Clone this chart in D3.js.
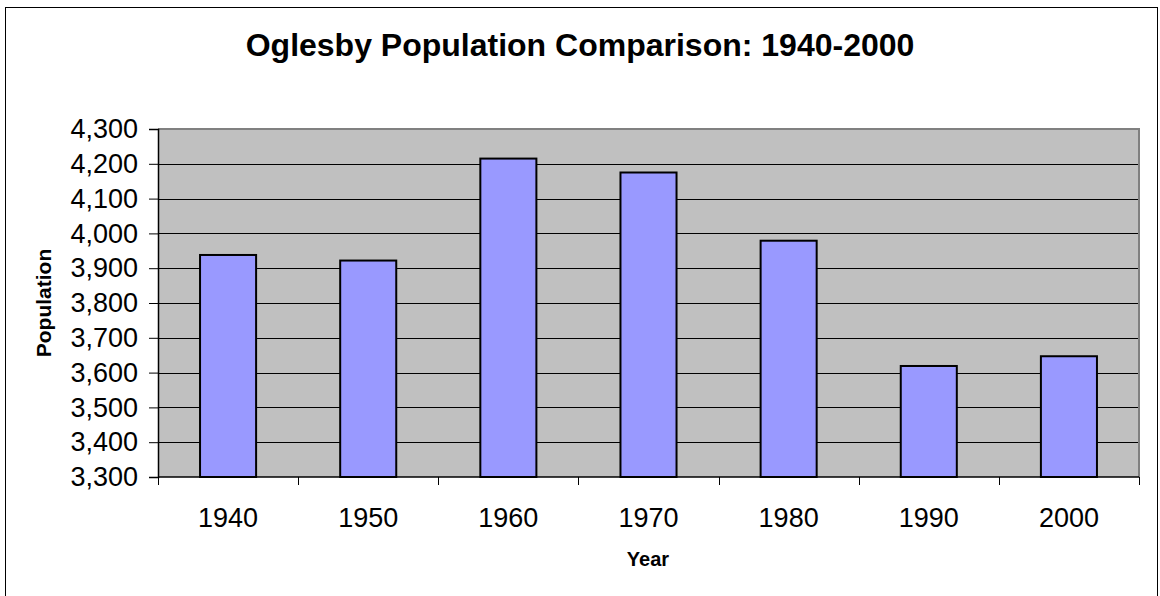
<!DOCTYPE html>
<html>
<head>
<meta charset="utf-8">
<script src="https://cdn.jsdelivr.net/npm/d3@7"></script>
<style>
  body { margin: 0; background: #fff; }
  svg { display: block; font-family: "Liberation Sans", Arial, sans-serif; }
</style>
</head>
<body>
<div id="chart"></div>
<script>
// data
const years = ["1940", "1950", "1960", "1970", "1980", "1990", "2000"];
const population = [3938, 3922, 4215, 4175, 3979, 3619, 3647];
const yTicks = [3300, 3400, 3500, 3600, 3700, 3800, 3900, 4000, 4100, 4200, 4300];

const width = 1160, height = 596;
const margin = {top: 129, right: 21, bottom: 119, left: 158};
const plotW = width - margin.left - margin.right;
const plotH = height - margin.top - margin.bottom;

const svg = d3.select("#chart")
  .append("svg")
    .attr("width", width)
    .attr("height", height);

// outer chart frame
svg.append("rect")
  .attr("x", 5.5).attr("y", 7.5)
  .attr("width", 1152).attr("height", 600)
  .attr("fill", "#fff")
  .attr("stroke", "#000")
  .attr("stroke-width", 1);

svg.append("text")
  .attr("x", 580)
  .attr("y", 56)
  .attr("text-anchor", "middle")
  .style("font-size", "32px")
  .style("font-weight", "bold")
  .text("Oglesby Population Comparison: 1940-2000");

const g = svg.append("g")
  .attr("transform", "translate(" + margin.left + "," + margin.top + ")");

const yaxis = d3.scaleLinear()
  .domain([3300, 4300])
  .range([plotH, 0]);

const xaxis = d3.scaleBand()
  .domain(years)
  .range([0, plotW])
  .paddingInner(0.6)
  .paddingOuter(0.3);

// plot background
g.append("rect")
  .attr("width", plotW)
  .attr("height", plotH)
  .attr("fill", "#c0c0c0");

// gridlines
g.selectAll(".grid")
  .data(yTicks.slice(1, -1))
  .enter()
  .append("line")
    .attr("x1", 0).attr("x2", plotW)
    .attr("y1", d => Math.round(yaxis(d)) + 0.5)
    .attr("y2", d => Math.round(yaxis(d)) + 0.5)
    .attr("stroke", "#000")
    .attr("stroke-width", 1);

// top and right border of plot area
g.append("path")
  .attr("d", "M0,0H" + plotW + "V" + plotH)
  .attr("fill", "none")
  .attr("stroke", "#808080")
  .attr("stroke-width", 2);

g.selectAll(".bar")
  .data(population)
  .enter()
  .append("rect")
    .attr("x", (d, i) => xaxis(years[i]))
    .attr("width", xaxis.bandwidth())
    .attr("y", d => yaxis(d))
    .attr("height", d => plotH - yaxis(d))
    .attr("fill", "#9999ff")
    .attr("stroke", "#000")
    .attr("stroke-width", 2);

// y axis
const yAx = g.append("g")
  .call(d3.axisLeft(yaxis)
    .tickValues(yTicks)
    .tickSize(9)
    .tickPadding(11)
    .tickFormat(d3.format(",")));
yAx.select(".domain").attr("stroke", "#000").attr("stroke-width", 1.5);
yAx.selectAll(".tick line").attr("stroke", "#000");
yAx.selectAll("text")
  .style("font-size", "27px")
  .attr("fill", "#000")
  .style("font-family", "'Liberation Sans', Arial, sans-serif");

// x axis: ticks sit between categories
const bounds = d3.range(years.length + 1).map(i => i * plotW / years.length);
const xAx = g.append("g")
  .attr("transform", "translate(0," + plotH + ")");
xAx.append("line")
  .attr("x1", 0).attr("x2", plotW)
  .attr("y1", 0).attr("y2", 0)
  .attr("stroke", "#000")
  .attr("stroke-width", 1.5);
xAx.selectAll(".tk")
  .data(bounds)
  .enter()
  .append("line")
    .attr("x1", d => Math.round(d) + 0.5)
    .attr("x2", d => Math.round(d) + 0.5)
    .attr("y1", 0).attr("y2", 8)
    .attr("stroke", "#000");
xAx.selectAll(".lbl")
  .data(years)
  .enter()
  .append("text")
    .attr("x", d => xaxis(d) + xaxis.bandwidth() / 2)
    .attr("y", 50)
    .attr("text-anchor", "middle")
    .style("font-size", "27px")
    .text(d => d);

svg.append("text")
  .attr("x", 648)
  .attr("y", 566)
  .attr("text-anchor", "middle")
  .style("font-size", "20px")
  .style("font-weight", "bold")
  .text("Year");

svg.append("text")
  .attr("transform", "translate(51,303)rotate(-90)")
  .attr("text-anchor", "middle")
  .style("font-size", "21px")
  .style("font-weight", "bold")
  .text("Population");
</script>
</body>
</html>
